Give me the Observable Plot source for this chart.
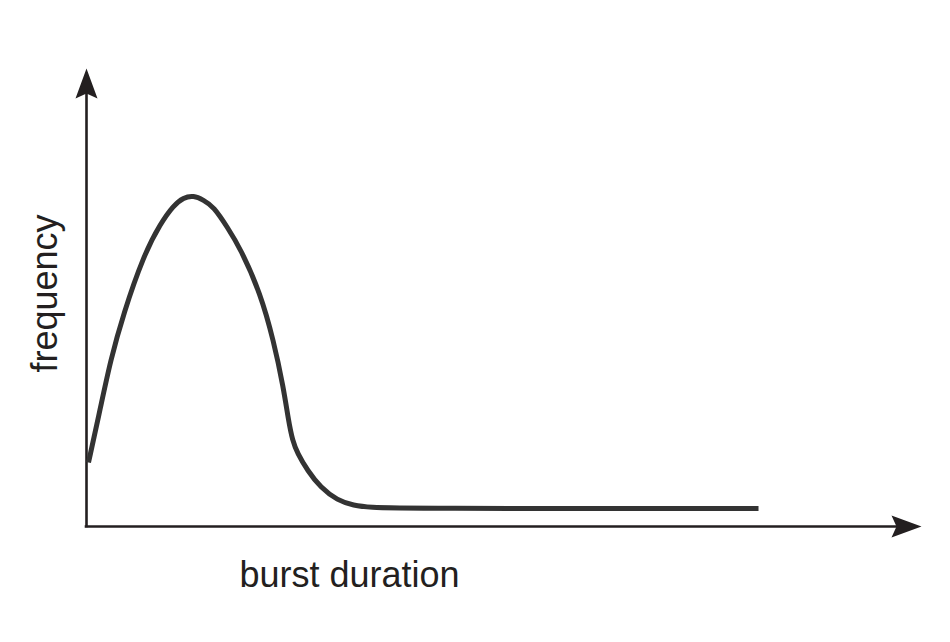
<!DOCTYPE html>
<html>
<head>
<meta charset="utf-8">
<script src="https://cdn.jsdelivr.net/npm/d3@7"></script>
<script src="https://cdn.jsdelivr.net/npm/@observablehq/plot@0.6"></script>
<style>
  html, body { margin: 0; padding: 0; background: #fff; }
</style>
</head>
<body>
<div id="chart"></div>
<script>
// Curve (arbitrary units, 0–100 on each axis)
const duration  = [0.24, 1.68, 2.87, 4.43, 6.83, 8.86, 10.42, 11.62, 12.81, 14.01, 15.21, 16.89, 18.44, 20.84, 22.40, 23.59, 24.19, 24.67, 25.27, 26.47, 28.02, 30.06, 31.98, 34.01, 37.60, 80.48];
const frequency = [13.97, 25.98, 36.24, 46.51, 59.17, 66.16, 70.09, 71.83, 72.27, 71.29, 69.87, 65.28, 60.70, 50.87, 40.61, 30.35, 23.14, 18.78, 15.94, 12.23, 8.52, 5.68, 4.59, 4.15, 3.93, 3.93];

const xLabel = "burst duration";
const yLabel = "frequency";
const xMax = 100;
const yMax = 100;

const points = duration.map((d, i) => ({duration: d, frequency: frequency[i]}));

// stealth-style arrowhead pointing up, tip at origin
const arrowHead = {
  draw(ctx) {
    ctx.moveTo(0, 0);
    ctx.lineTo(11, 30);
    ctx.lineTo(0, 25);
    ctx.lineTo(-11, 30);
    ctx.closePath();
  }
};

const ink = "#231f20";
const font = "'Liberation Sans', Helvetica, Arial, sans-serif";

const chart = Plot.plot({
  width: 950,
  height: 642,
  marginLeft: 86,
  marginRight: 29,
  marginTop: 68,
  marginBottom: 116,
  x: {domain: [0, xMax], axis: null},
  y: {domain: [0, yMax], axis: null},
  style: {background: "#fff", fontFamily: font},
  marks: [
    Plot.ruleY([0], {x1: 0, x2: xMax - 2, stroke: ink, strokeWidth: 2.6, strokeLinecap: "square"}),
    Plot.ruleX([0], {y1: 0, y2: yMax - 4, stroke: ink, strokeWidth: 2.6, strokeLinecap: "square"}),
    Plot.dot([{x: xMax, y: 0}], {x: "x", y: "y", symbol: arrowHead, rotate: 90, fill: ink, stroke: "none"}),
    Plot.dot([{x: 0, y: yMax}], {x: "x", y: "y", symbol: arrowHead, rotate: 0, fill: ink, stroke: "none"}),
    Plot.line(points, {x: "duration", y: "frequency", curve: "basis", stroke: "#333333", strokeWidth: 5, strokeLinecap: "butt", strokeLinejoin: "round"}),
    Plot.text([xLabel], {frameAnchor: "bottom-left", dx: 263, dy: 60, text: d => d, textAnchor: "middle", lineAnchor: "bottom", fontSize: 36, fill: ink}),
    Plot.text([yLabel], {frameAnchor: "left", rotate: -90, dx: -30, dy: -4, text: d => d, textAnchor: "middle", lineAnchor: "bottom", fontSize: 36, fill: ink})
  ]
});

document.getElementById("chart").appendChild(chart);
</script>
</body>
</html>
